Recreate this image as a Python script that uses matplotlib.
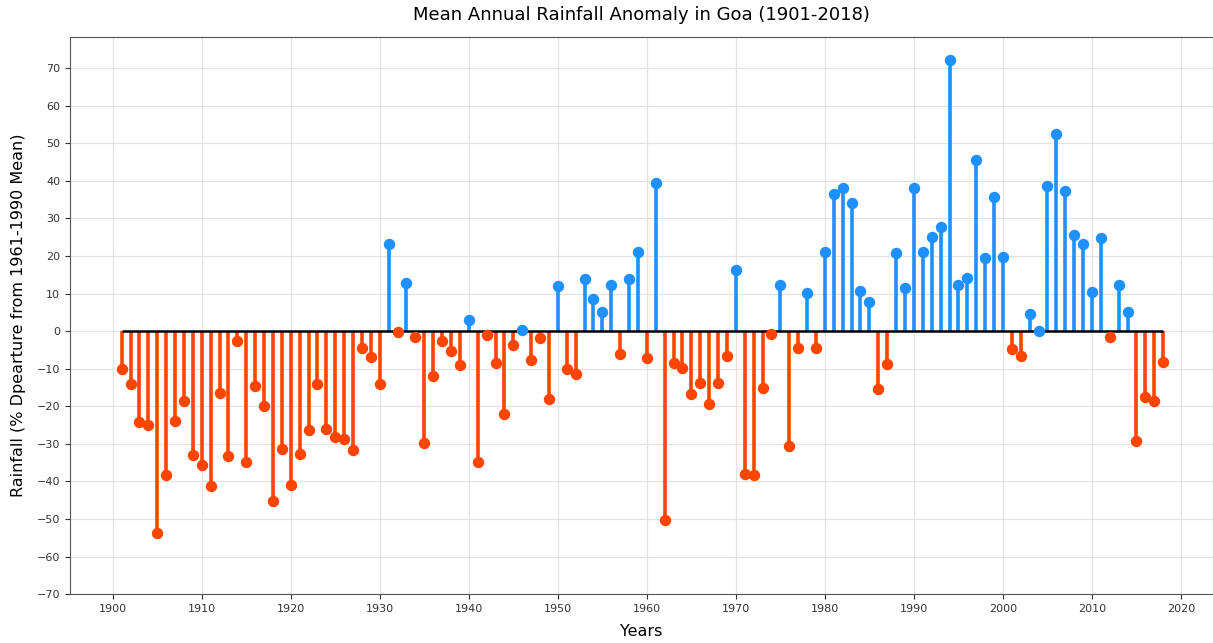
import numpy as np
import matplotlib
matplotlib.use("Agg")
import matplotlib.pyplot as plt

years = list(range(1901, 2019))
anomaly = [
    -10.1, -14.0, -24.2, -25.0, -53.6, -38.3, -24.0, -18.7, -33.0, -35.5,   # 1901-1910
    -41.3, -16.5, -33.3, -2.5, -34.8, -14.5, -20.0, -45.3, -31.4, -41.0,    # 1911-1920
    -32.6, -26.3, -14.2, -26.1, -28.1, -28.6, -31.6, -4.6, -6.8, -14.2,     # 1921-1930
    23.2, -0.2, 12.7, -1.5, -29.7, -12.0, -2.6, -5.4, -9.0, 3.0,            # 1931-1940
    -34.8, -1.1, -8.5, -22.1, -3.8, 0.2, -7.6, -1.7, -18.1, 12.0,           # 1941-1950
    -10.0, -11.3, 14.0, 8.5, 5.0, 12.2, -6.1, 13.9, 21.0, -7.2,             # 1951-1960
    39.5, -50.3, -8.6, -9.7, -16.6, -13.7, -19.3, -13.9, -6.7, 16.2,        # 1961-1970
    -38.1, -38.2, -15.1, -0.8, 12.3, -30.5, -4.6, 10.1, -4.5, 21.1,         # 1971-1980
    36.5, 38.0, 34.0, 10.6, 7.7, -15.5, -8.7, 20.7, 11.4, 38.0,             # 1981-1990
    21.0, 25.0, 27.8, 72.1, 12.3, 14.2, 45.6, 19.6, 35.7, 19.7,             # 1991-2000
    -4.7, -6.6, 4.6, 0.1, 38.7, 52.5, 37.3, 25.7, 23.3, 10.4,               # 2001-2010
    24.7, -1.6, 12.3, 5.2, -29.2, -17.6, -18.6, -8.2,                       # 2011-2018
]

years = np.array(years)
anomaly = np.array(anomaly)
pos = anomaly > 0
neg = ~pos

fig = plt.figure(figsize=(12.13, 6.43), dpi=100)
ax = fig.add_axes([0.0577, 0.076, 0.9423, 0.8665])

ax.grid(True, color="#e3e3e3", linewidth=0.9, zorder=0)
ax.set_axisbelow(True)

# stems + heads, coloured by sign
ax.vlines(years[neg], 0, anomaly[neg], color="orangered", linewidth=2.6, zorder=2)
ax.vlines(years[pos], 0, anomaly[pos], color="dodgerblue", linewidth=2.6, zorder=2)
ax.plot(years[neg], anomaly[neg], "o", color="orangered", markersize=7.2, zorder=3)
ax.plot(years[pos], anomaly[pos], "o", color="dodgerblue", markersize=7.2, zorder=3)
ax.hlines(0, years[0], years[-1], color="black", linewidth=1.8, zorder=2.5)

ax.set_xlim(1895.2, 2023.6)
ax.set_ylim(-70, 78.3)
ax.set_xticks(np.arange(1900, 2021, 10))
ax.set_yticks(np.arange(-70, 71, 10))
ax.tick_params(labelsize=8, colors="#333333", length=3.5)
for s in ax.spines.values():
    s.set_color("#555555")

ax.set_title("Mean Annual Rainfall Anomaly in Goa (1901-2018)", fontsize=13, pad=12)
ax.set_xlabel("Years", fontsize=11.5, labelpad=7)
ax.set_ylabel("Rainfall (% Dpearture from 1961-1990 Mean)", fontsize=11.5, labelpad=8)

fig.savefig("out.png", dpi=100)
